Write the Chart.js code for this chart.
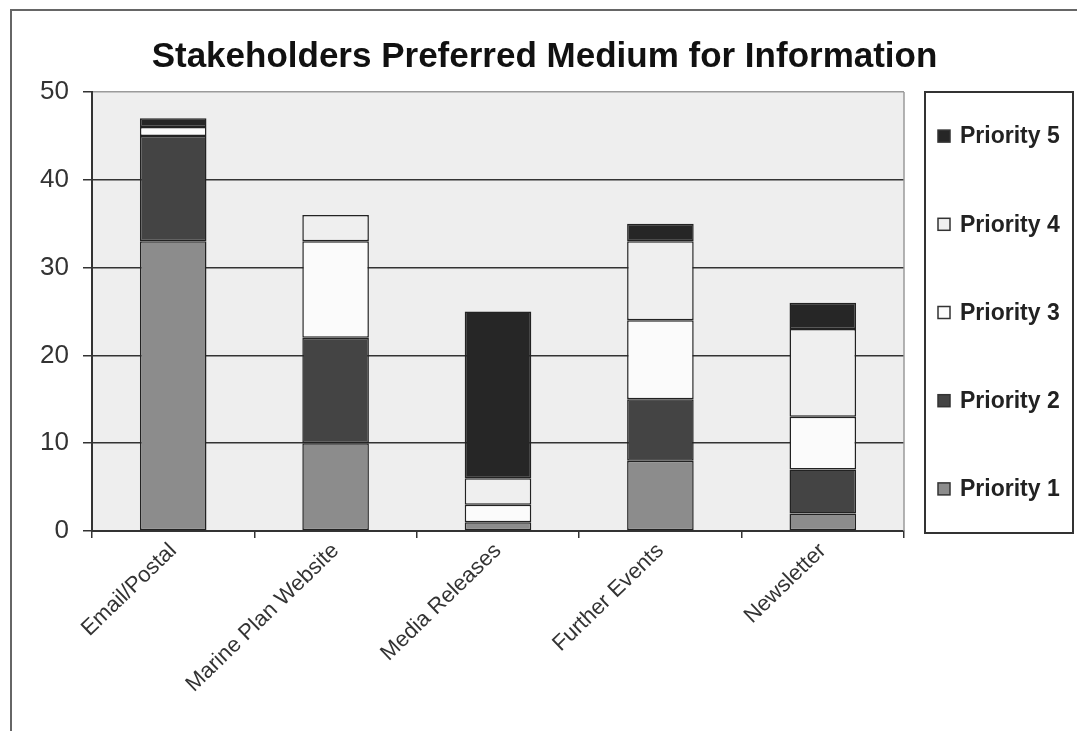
<!DOCTYPE html>
<html>
<head>
<meta charset="utf-8">
<script src="https://cdn.jsdelivr.net/npm/chart.js@4/dist/chart.umd.min.js"></script>
<style>
  html, body { margin: 0; padding: 0; background: #fff; }
  #wrap { width: 1077px; height: 731px; }
</style>
</head>
<body>
<div id="wrap"><canvas id="mediumChart"></canvas></div>
<script>
// Dữ liệu biểu đồ
const categories = ["Email/Postal", "Marine Plan Website", "Media Releases", "Further Events", "Newsletter"];
const priority1 = [33, 10, 1, 8, 2];
const priority2 = [12, 12, 0, 7, 5];
const priority3 = [1, 11, 2, 9, 6];
const priority4 = [0, 3, 3, 9, 10];
const priority5 = [1, 0, 19, 2, 3];
const yTicks = [0, 10, 20, 30, 40, 50];

const seriesNames = ["Priority 1", "Priority 2", "Priority 3", "Priority 4", "Priority 5"];
const seriesColors = ["#8c8c8c", "#444444", "#fbfbfb", "#efefef", "#262626"];
const seriesValues = [priority1, priority2, priority3, priority4, priority5];

const FONT = "Arial, 'Liberation Sans', sans-serif";

// Nền vùng vẽ, khung ngoài và chú thích có viền
const framePlugin = {
  id: "frame",
  beforeDraw(chart) {
    const { ctx, chartArea: a } = chart;
    ctx.save();
    ctx.fillStyle = "#eeeeee";
    ctx.fillRect(a.left, a.top, a.right - a.left, a.bottom - a.top);
    ctx.restore();
  },
  afterDraw(chart) {
    const { ctx, chartArea: a } = chart;
    ctx.save();
    // viền phải của vùng vẽ
    ctx.strokeStyle = "#9a9a9a";
    ctx.lineWidth = 1.5;
    ctx.beginPath();
    ctx.moveTo(a.right, a.top);
    ctx.lineTo(a.right, a.bottom);
    ctx.stroke();

    // khung ngoài
    ctx.strokeStyle = "#666";
    ctx.lineWidth = 2;
    ctx.beginPath();
    ctx.moveTo(11, 731);
    ctx.lineTo(11, 10);
    ctx.lineTo(1077, 10);
    ctx.stroke();

    // chú thích
    const left = a.right + 21;
    const top = a.top;
    const w = 148;
    const h = a.bottom - a.top + 2;
    ctx.fillStyle = "#fff";
    ctx.fillRect(left, top, w, h);
    ctx.strokeStyle = "#333";
    ctx.lineWidth = 2;
    ctx.strokeRect(left, top, w, h);

    const items = chart.data.datasets.slice().reverse();
    ctx.font = "bold 23px " + FONT;
    ctx.textBaseline = "middle";
    items.forEach((ds, i) => {
      const cy = top + (i + 0.5) * h / items.length;
      ctx.fillStyle = ds.backgroundColor;
      ctx.fillRect(left + 13, cy - 6, 12, 12);
      ctx.strokeStyle = "#333";
      ctx.lineWidth = 1.5;
      ctx.strokeRect(left + 13, cy - 6, 12, 12);
      ctx.fillStyle = "#222";
      ctx.fillText(ds.label, left + 35, cy + 1);
    });
    ctx.restore();
  },
};

const ctx = document.getElementById("mediumChart").getContext("2d");
new Chart(ctx, {
  type: "bar",
  data: {
    labels: categories,
    datasets: seriesNames.map((name, i) => ({
      label: name,
      data: seriesValues[i],
      backgroundColor: seriesColors[i],
      borderColor: "#222",
      borderWidth: 1.5,
      borderSkipped: false,
      barPercentage: 0.41,
      categoryPercentage: 1,
    })),
  },
  options: {
    responsive: true,
    maintainAspectRatio: false,
    animation: false,
    layout: {
      padding: { left: 12, right: 0, top: 0, bottom: 0 },
    },
    plugins: {
      legend: { display: false },
      tooltip: { enabled: false },
      title: {
        display: true,
        text: "Stakeholders Preferred Medium for Information",
        color: "#111",
        font: { family: FONT, size: 35, weight: "bold" },
        padding: { top: 36, bottom: 14 },
      },
    },
    scales: {
      x: {
        stacked: true,
        grid: {
          display: true,
          drawOnChartArea: false,
          color: "#333",
          lineWidth: 1.5,
          tickLength: 7,
        },
        border: { color: "#333", width: 2 },
        ticks: {
          color: "#333",
          font: { family: FONT, size: 22 },
          maxRotation: 44,
          minRotation: 44,
          padding: 0,
        },
        afterFit(scale) {
          scale.height = 200;
        },
      },
      y: {
        stacked: true,
        min: 0,
        max: 50,
        afterBuildTicks(scale) {
          scale.ticks = yTicks.map((v) => ({ value: v }));
        },
        grid: {
          color: (c) => (c.tick && c.tick.value === 50 ? "#9a9a9a" : "#333"),
          lineWidth: 1.5,
          tickLength: 9,
          tickColor: "#333",
        },
        border: { color: "#333", width: 2 },
        ticks: {
          color: "#333",
          font: { family: FONT, size: 26 },
          padding: 14,
        },
        afterFit(scale) {
          scale.width = 80;
        },
      },
      yRight: {
        position: "right",
        display: true,
        grid: { display: false },
        border: { display: false },
        ticks: { display: false },
        afterFit(scale) {
          scale.width = 173;
        },
      },
    },
  },
  plugins: [framePlugin],
});
</script>
</body>
</html>
